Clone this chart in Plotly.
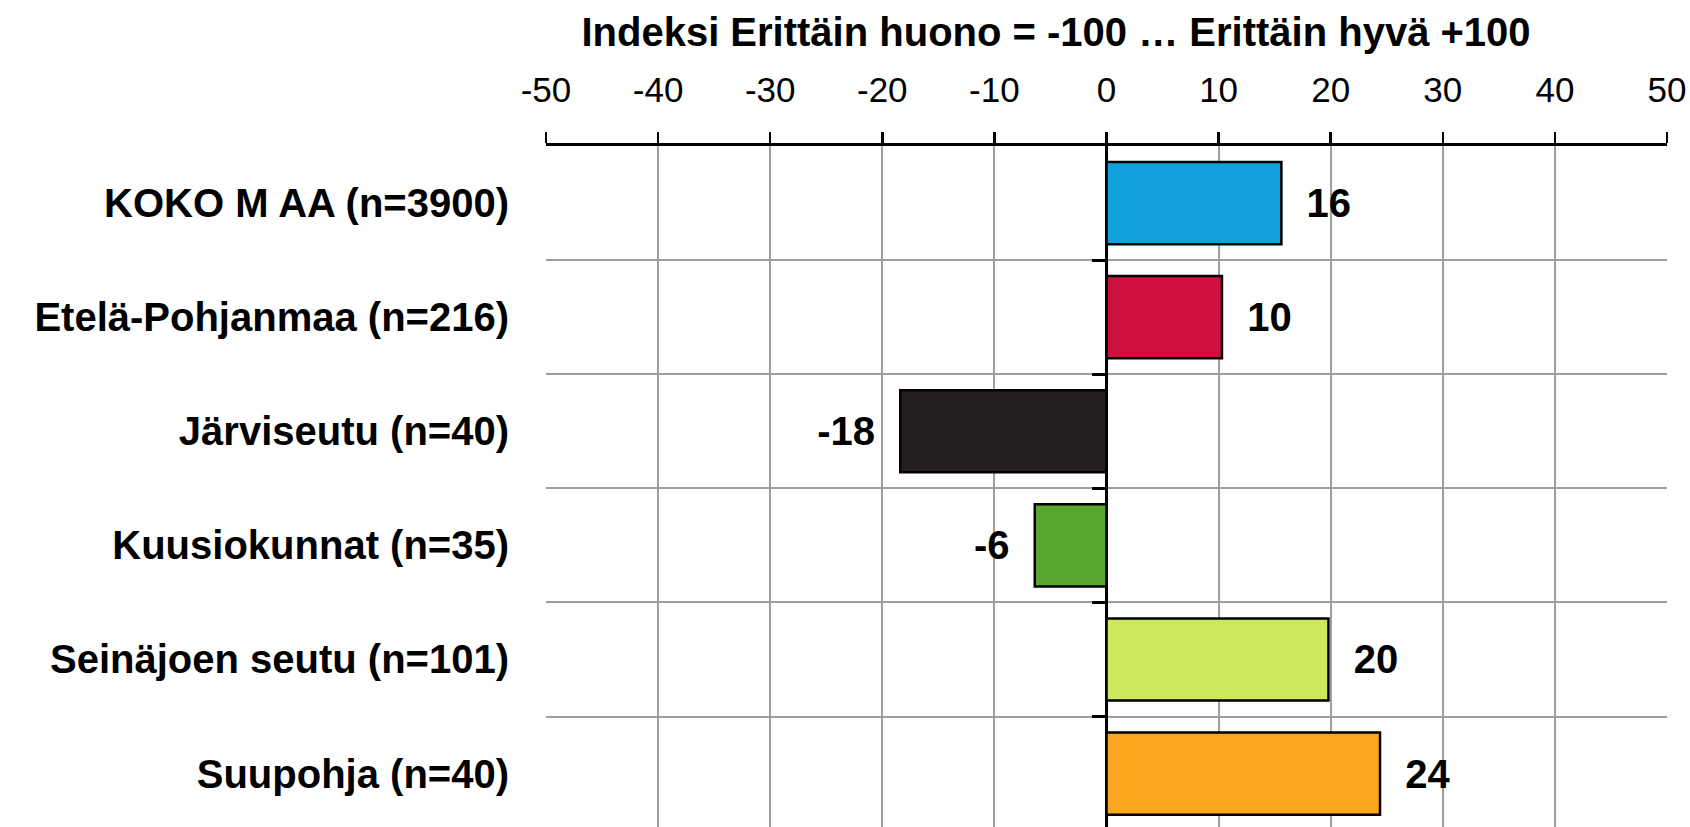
import plotly.graph_objects as go

categories = [
    "KOKO M AA (n=3900)",
    "Etelä-Pohjanmaa (n=216)",
    "Järviseutu (n=40)",
    "Kuusiokunnat (n=35)",
    "Seinäjoen seutu (n=101)",
    "Suupohja (n=40)",
]
values = [15.6, 10.3, -18.4, -6.4, 19.8, 24.4]
bar_colors = ["#10A1DB", "#CE1141", "#231F20", "#58A82E", "#CDE85A", "#FDA620"]
x_ticks = [-50, -40, -30, -20, -10, 0, 10, 20, 30, 40, 50]
title_text = "Indeksi Erittäin huono = -100 … Erittäin hyvä +100"
boundaries = [0.5, 1.5, 2.5, 3.5, 4.5]

FONT = "Liberation Sans, Arial, sans-serif"
GRID = "#9E9E9E"
NB = "\u00a0"

W, H = 1690, 827

templates = [(NB * 2 + "%{x:.0f}") if v >= 0 else ("%{x:.0f}" + NB * 2) for v in values]

fig = go.Figure()
fig.add_trace(go.Bar(
    y=categories,
    x=values,
    orientation="h",
    width=0.72,
    marker=dict(color=bar_colors, line=dict(color="black", width=2.5)),
    texttemplate=templates,
    textposition="outside",
    textfont=dict(family=FONT, size=40, color="black", weight="bold"),
    constraintext="none",
    cliponaxis=False,
    showlegend=False,
    hoverinfo="skip",
))
# helper trace for the tick marks drawn on the zero line
fig.add_trace(go.Scatter(x=[0], y=[0], yaxis="y2", mode="markers",
                         marker=dict(opacity=0), showlegend=False, hoverinfo="skip"))

yrange = [5.468, -0.5]

fig.update_layout(
    width=W,
    height=H,
    margin=dict(l=546, r=23, t=146, b=0, pad=0),
    paper_bgcolor="white",
    plot_bgcolor="white",
    title=dict(
        text=title_text,
        font=dict(family=FONT, size=40, color="black", weight="bold"),
        xref="container", yref="container",
        x=1056 / W, xanchor="center",
        y=1 - 32 / H, yanchor="middle",
    ),
    xaxis=dict(
        side="top",
        range=[-50, 50],
        tickvals=x_ticks,
        ticktext=[str(t) for t in x_ticks],
        tickfont=dict(family=FONT, size=35, color="black"),
        showline=True, linecolor="black", linewidth=3,
        ticks="outside", ticklen=11, tickwidth=2.5, tickcolor="black",
        ticklabelstandoff=16,
        showgrid=True, gridcolor=GRID, gridwidth=2,
        zeroline=True, zerolinecolor="black", zerolinewidth=3,
        fixedrange=True,
    ),
    yaxis=dict(
        type="category",
        categoryorder="array",
        categoryarray=categories,
        range=yrange,
        tickson="boundaries",
        ticks="",
        showgrid=True, gridcolor=GRID, gridwidth=2,
        zeroline=False,
        showline=False,
        tickfont=dict(family=FONT, size=40, color="black", weight="bold"),
        ticklabelstandoff=36,
        fixedrange=True,
    ),
    yaxis2=dict(
        overlaying="y",
        anchor="free",
        position=0.5,
        side="left",
        range=yrange,
        tickmode="array",
        tickvals=boundaries,
        ticks="outside", ticklen=15, tickwidth=3, tickcolor="black",
        showticklabels=False,
        showgrid=False, zeroline=False, showline=False,
        fixedrange=True,
    ),
)

fig.write_html(
    "out.html",
    config={"displayModeBar": False, "staticPlot": True},
    post_script="document.body.style.margin='0';document.body.style.overflow='hidden';",
)
